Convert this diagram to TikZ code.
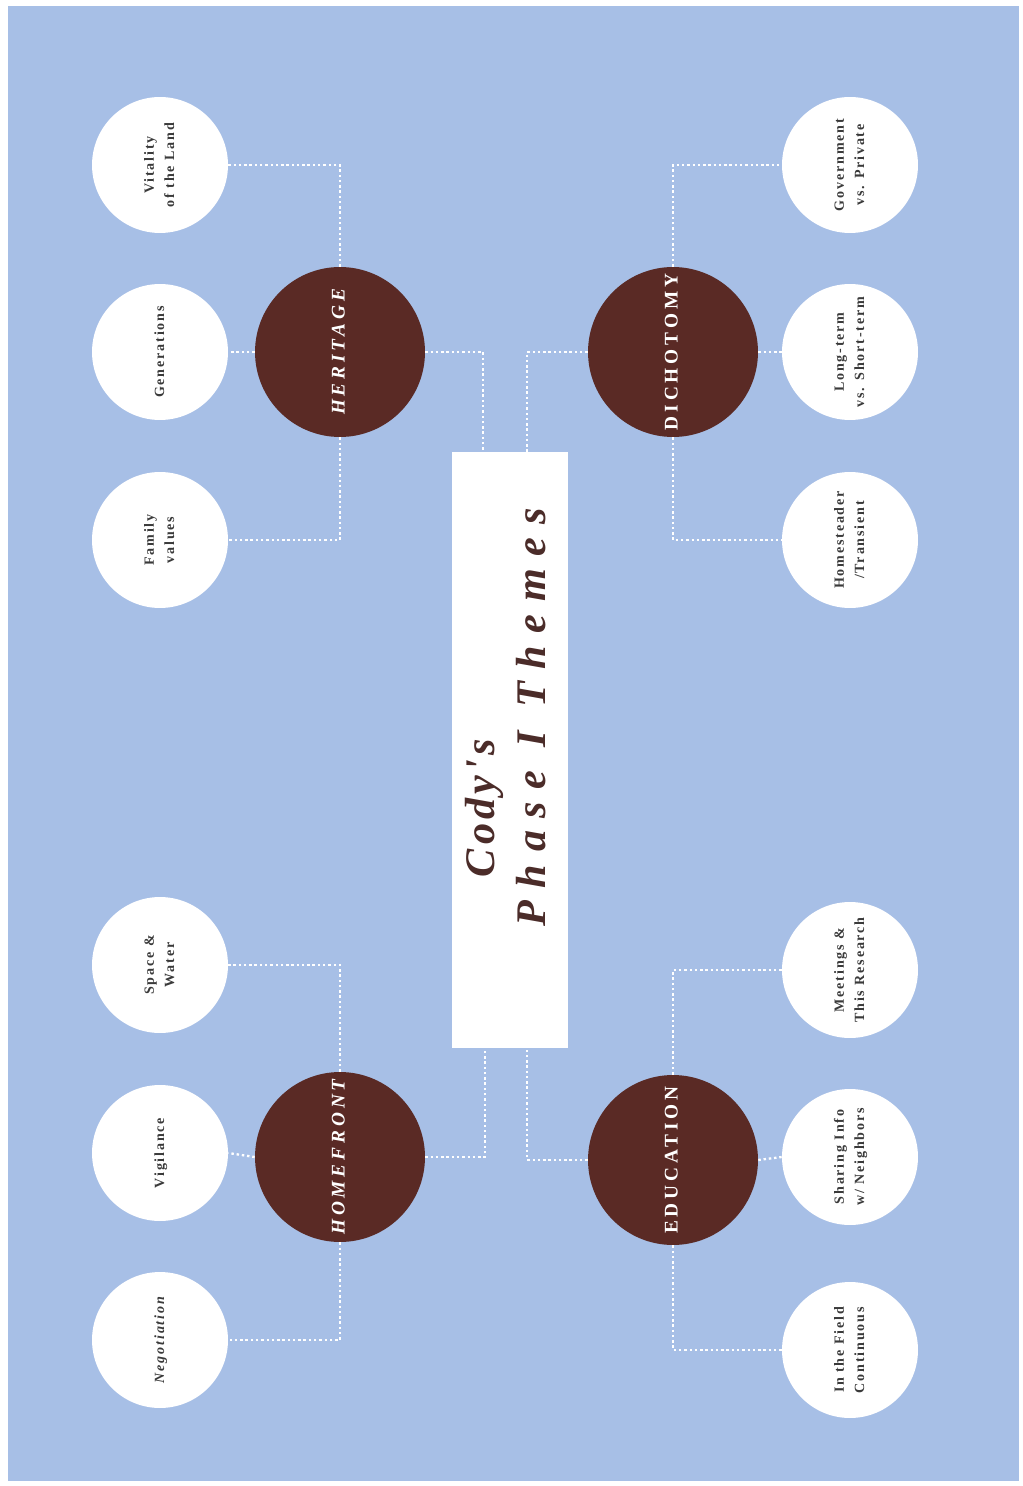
\documentclass[tikz,border=0pt]{standalone}
\usepackage{fontspec}
\usepackage{graphicx}
\setmainfont{Liberation Serif}
\newfontfamily\titlefont[LetterSpace=30]{Liberation Serif}
\newfontfamily\codyfont[LetterSpace=10]{Liberation Serif}
\newfontfamily\themefont[LetterSpace=20]{Liberation Serif}
\newfontfamily\leaffont[LetterSpace=13]{Liberation Serif}
\usetikzlibrary{calc, positioning}
\definecolor{SkyBlue}{HTML}{A7BFE6}
\definecolor{Cocoa}{HTML}{5A2A25}
\definecolor{InkGray}{HTML}{3A3A3A}
\definecolor{TitleBrown}{HTML}{4B2C29}
\newcommand{\upright}[1]{\rotatebox{90}{\begin{tabular}{@{}c@{}}#1\end{tabular}}}

\begin{document}
\begin{tikzpicture}[x=0.02cm, y=-0.02cm,
      leaf/.style={circle, fill=white, minimum size=2.72cm, inner sep=0pt, text=InkGray,
                   font=\leaffont\fontsize{8}{11.5}\selectfont\bfseries},
      theme/.style={circle, fill=Cocoa, minimum size=3.4cm, inner sep=0pt, text=white,
                    font=\themefont\fontsize{11}{13}\selectfont\bfseries},
      link/.style={draw=white, line width=1.3pt, dash pattern=on 1.4pt off 1.6pt}]
      \useasboundingbox (0,0) rectangle (1022,1486);
      \fill[white] (0,0) rectangle (1022,1486);
      \fill[SkyBlue] (8,6) rectangle (1019,1481);
      % Title
      \node[fill=white, minimum width=2.32cm, minimum height=11.92cm, inner sep=0pt, text=TitleBrown,
            font=\titlefont\fontsize{24}{29}\selectfont\bfseries\itshape] (title) at (510,750)
            {\rotatebox{90}{\hspace{37pt}\begin{tabular}{@{}l@{}}\hspace{28pt}{\codyfont Cody's}\\Phase I Themes\end{tabular}}};
      % Themes
      \node[theme] (heritage)  at (340,352)  {\upright{\itshape HERITAGE}};
      \node[theme] (dichotomy) at (673,352)  {\upright{DICHOTOMY}};
      \node[theme] (homefront) at (340,1157) {\upright{\itshape HOMEFRONT}};
      \node[theme] (education) at (673,1160) {\upright{EDUCATION}};
      % Left leaves
      \node[leaf] (vitality)    at (160,165)  {\upright{Vitality\\of the Land}};
      \node[leaf] (generations) at (160,352)  {\upright{Generations}};
      \node[leaf] (family)      at (160,540)  {\upright{Family\\values}};
      \node[leaf] (space)       at (160,965)  {\upright{Space \&\\Water}};
      \node[leaf] (vigilance)   at (160,1153) {\upright{Vigilance}};
      \node[leaf] (negotiation) at (160,1340) {\upright{\itshape Negotiation}};
      % Right leaves
      \node[leaf] (government)  at (850,165)  {\upright{Government\\vs. Private}};
      \node[leaf] (longterm)    at (850,352)  {\upright{Long-term\\vs. Short-term}};
      \node[leaf] (homesteader) at (850,540)  {\upright{Homesteader\\/Transient}};
      \node[leaf] (meetings)    at (850,970)  {\upright{Meetings \&\\This Research}};
      \node[leaf] (sharing)     at (850,1157) {\upright{Sharing Info\\w/ Neighbors}};
      \node[leaf] (field)       at (850,1350) {\upright{In the Field\\Continuous}};
      % Drop points on the title box
      \coordinate (titleNW) at ($(title.north)+(-27,0)$);
      \coordinate (titleNE) at ($(title.north)+(17,0)$);
      \coordinate (titleSW) at ($(title.south)+(-25,0)$);
      \coordinate (titleSE) at ($(title.south)+(17,0)$);
      % Connectors
      \draw[link] (heritage.north) |- (vitality.east);
      \draw[link] (heritage.west) -- (generations.east);
      \draw[link] (heritage.south) |- (family.east);
      \draw[link] (heritage.east) -| (titleNW);
      \draw[link] (dichotomy.north) |- (government.west);
      \draw[link] (dichotomy.east) -- (longterm.west);
      \draw[link] (dichotomy.south) |- (homesteader.west);
      \draw[link] (dichotomy.west) -| (titleNE);
      \draw[link] (homefront.north) |- (space.east);
      \draw[link] (homefront.west) -- (vigilance.east);
      \draw[link] (homefront.south) |- (negotiation.east);
      \draw[link] (homefront.east) -| (titleSW);
      \draw[link] (education.north) |- (meetings.west);
      \draw[link] (education.east) -- (sharing.west);
      \draw[link] (education.south) |- (field.west);
      \draw[link] (education.west) -| (titleSE);
\end{tikzpicture}
\end{document}
